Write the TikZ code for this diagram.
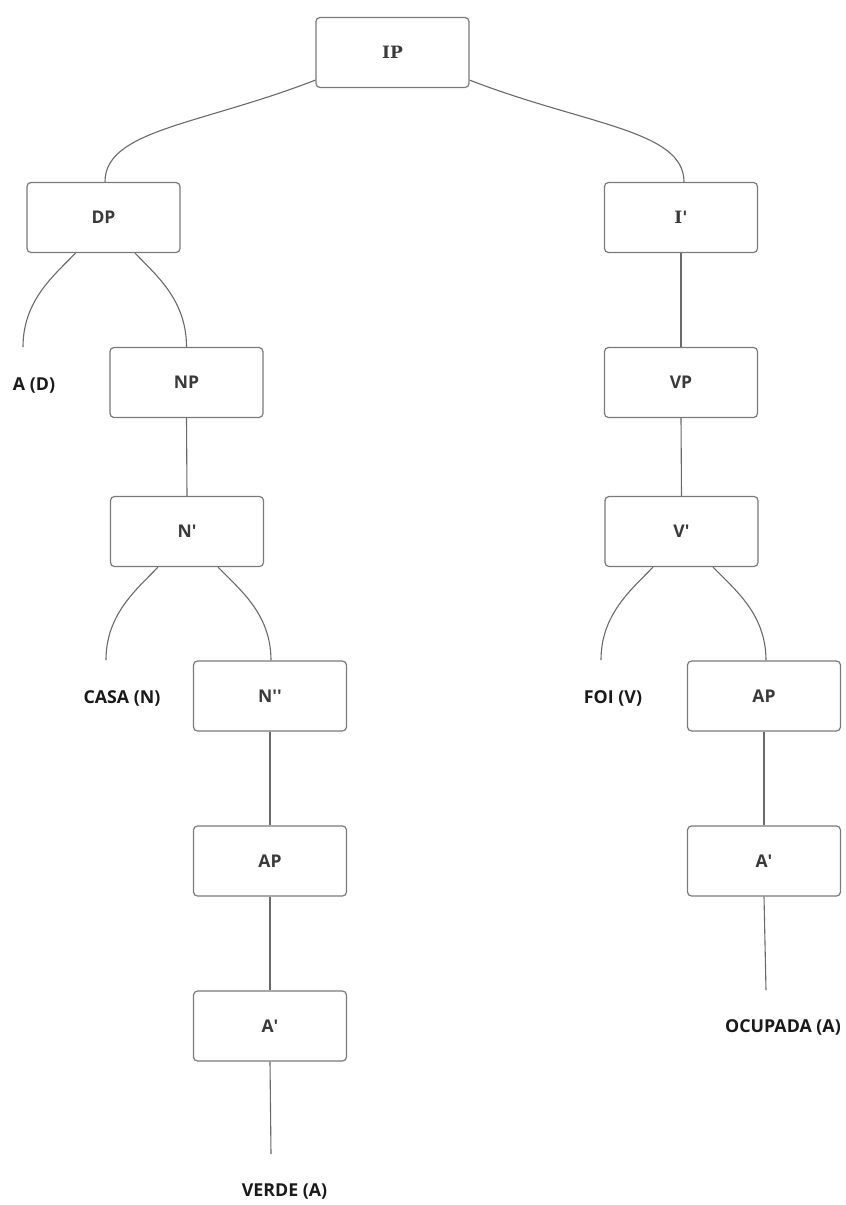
\documentclass[tikz,border=0pt]{standalone}
\usepackage{fontspec}
\setmainfont{Open Sans}
\newfontfamily\slabfont{DejaVu Serif}
\usetikzlibrary{calc}
\definecolor{boxline}{HTML}{7A7A7A}
\definecolor{edgeline}{HTML}{6A6A6A}
\definecolor{boxtext}{HTML}{3A3A3A}
\definecolor{leaftext}{HTML}{1A1A1A}
\newcommand{\sq}{\textquotesingle}
\tikzset{
  tbox/.style={draw=boxline, line width=1.2pt, rounded corners=4pt, minimum width=153pt, minimum height=70pt, inner sep=0pt, fill=white,
    font=\fontsize{17.5}{20}\selectfont\bfseries, text=boxtext},
  sbox/.style={tbox, font=\slabfont\fontsize{17}{20}\selectfont\bfseries, text=boxtext},
  leaf/.style={inner sep=0pt, font=\fontsize{17.8}{20}\selectfont\bfseries, text=leaftext},
  edge/.style={draw=edgeline, line width=1.1pt}
}
\begin{document}
\begin{tikzpicture}[x=1pt,y=-1pt]
\useasboundingbox (0,0) rectangle (846,1205);
\fill[white] (0,0) rectangle (846,1205);
% boxes
\node[sbox] (IP) at (392.5,52.5) {IP};
\node[tbox] (DP) at (103.5,217.5) {DP};
\node[sbox] (Ibar) at (681,217.5) {I\sq};
\node[tbox] (NP) at (186.5,382.5) {NP};
\node[tbox] (VP) at (681,382.5) {VP};
\node[tbox] (Nbar) at (187,531.5) {N\sq};
\node[tbox] (Vbar) at (681.5,531.5) {V\sq};
\node[tbox] (Nbb) at (270,696) {N\sq\sq};
\node[tbox] (APr) at (764,696) {AP};
\node[tbox] (APl) at (270,861) {AP};
\node[tbox] (Abr) at (764,861) {A\sq};
\node[tbox] (Abl) at (270,1026) {A\sq};
% leaves
\node[leaf] (AD) at (34,386) {A (D)};
\node[leaf] (CASA) at (122,698) {CASA (N)};
\node[leaf] (FOI) at (613,698) {FOI (V)};
\node[leaf] (OCU) at (783,1027) {OCUPADA (A)};
\node[leaf] (VER) at (284.5,1192) {VERDE (A)};
% free ends
\coordinate (eAD) at (23,347);
\coordinate (eCASA) at (106,660);
\coordinate (eFOI) at (601,660);
\coordinate (eOCU) at (766,990);
\coordinate (eVER) at (271,1154);
% IP branches
\draw[edge] ($(IP.south west)+(0,-8)$) .. controls +(-116,45) and +(0,-52) .. ($(DP.north)+(1.5,0)$);
\draw[edge] ($(IP.south east)+(0,-8)$) .. controls +(116,45) and +(0,-52) .. ($(Ibar.north)+(3,0)$);
% DP branches
\draw[edge] ($(DP.south)+(-28,0)$) .. controls +(-21,22) and +(0,-47) .. (eAD);
\draw[edge] ($(DP.south)+(31.5,0)$) .. controls +(21,22) and +(0,-47) .. (NP.north);
% N' branches
\draw[edge] ($(Nbar.south)+(-29,0)$) .. controls +(-21,22) and +(0,-46) .. (eCASA);
\draw[edge] ($(Nbar.south)+(31,0)$) .. controls +(21,22) and +(0,-47) .. ($(Nbb.north)+(1,0)$);
% V' branches
\draw[edge] ($(Vbar.south)+(-28.5,0)$) .. controls +(-21,22) and +(0,-46) .. (eFOI);
\draw[edge] ($(Vbar.south)+(31.5,0)$) .. controls +(21,22) and +(0,-47) .. ($(APr.north)+(2,0)$);
% straight links
\draw[edge] (Ibar.south) -- (VP.north);
\draw[edge] (VP.south) -- (Vbar.north);
\draw[edge] (NP.south) -- (Nbar.north);
\draw[edge] (Nbb.south) -- (APl.north);
\draw[edge] (APl.south) -- (Abl.north);
\draw[edge] (Abl.south) -- (eVER);
\draw[edge] (APr.south) -- (Abr.north);
\draw[edge] (Abr.south) -- (eOCU);
\end{tikzpicture}
\end{document}
